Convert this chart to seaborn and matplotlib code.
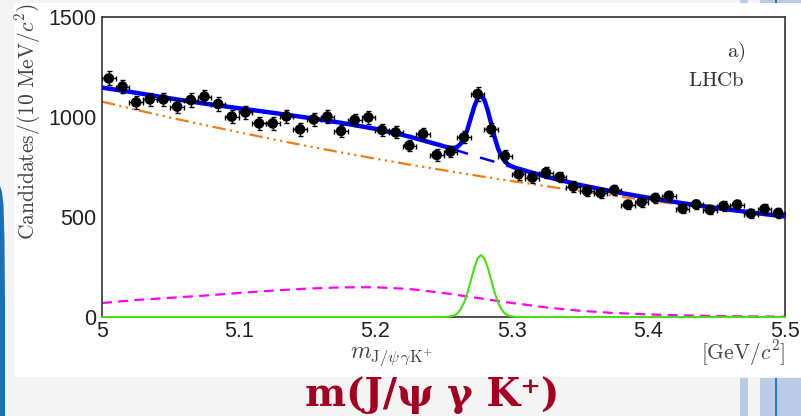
import numpy as np
import matplotlib
matplotlib.use("Agg")
import matplotlib.pyplot as plt
import seaborn as sns
from matplotlib.patches import Rectangle, Polygon

# ---------------- data ----------------
bin_centers = [5.005, 5.015, 5.025, 5.035, 5.045, 5.055, 5.065, 5.075, 5.085, 5.095,
               5.105, 5.115, 5.125, 5.135, 5.145, 5.155, 5.165, 5.175, 5.185, 5.195,
               5.205, 5.215, 5.225, 5.235, 5.245, 5.255, 5.265, 5.275, 5.285, 5.295,
               5.305, 5.315, 5.325, 5.335, 5.345, 5.355, 5.365, 5.375, 5.385, 5.395,
               5.405, 5.415, 5.425, 5.435, 5.445, 5.455, 5.465, 5.475, 5.485, 5.495]
counts = [1193, 1152, 1073, 1088, 1088, 1052, 1085, 1102, 1065, 1002,
          1023, 968, 968, 1003, 938, 988, 1002, 930, 985, 998,
          935, 923, 857, 915, 810, 827, 898, 1115, 938, 805,
          714, 697, 722, 700, 652, 630, 620, 635, 562, 575,
          595, 606, 542, 563, 536, 555, 562, 517, 540, 520]
count_errors = [35, 34, 33, 33, 33, 32, 33, 33, 33, 32,
                32, 31, 31, 32, 31, 31, 32, 30, 31, 32,
                31, 30, 29, 30, 28, 29, 30, 33, 31, 28,
                27, 26, 27, 26, 26, 25, 25, 25, 24, 24,
                24, 25, 23, 24, 23, 24, 24, 23, 23, 23]

fit_x = [5.000, 5.025, 5.050, 5.075, 5.100, 5.125, 5.150, 5.175, 5.200, 5.225,
         5.250, 5.2525, 5.255, 5.2575, 5.260, 5.2625, 5.265, 5.2675, 5.270, 5.2725,
         5.275, 5.2775, 5.280, 5.2825, 5.285, 5.2875, 5.290, 5.2925, 5.295, 5.2975,
         5.300, 5.3025, 5.305, 5.325, 5.350, 5.375, 5.400, 5.425, 5.450, 5.475, 5.500]
combinatorial = [1077, 1036, 997, 960, 924, 889, 855, 823, 792, 762,
                 734, 731, 728, 725, 723, 720, 717, 714, 712, 709,
                 706, 703, 701, 698, 696, 693, 690, 688, 685, 682,
                 680, 677, 675, 654, 629, 606, 583, 561, 540, 520, 500]
part_reco = [70, 85, 96, 107, 120, 132, 142, 148, 149, 140,
             120, 117.5, 115, 112.5, 110, 107.5, 105, 102.5, 100, 97.5,
             95, 92.5, 90, 87.5, 85, 82.5, 80, 77.5, 75, 72.5,
             70, 68, 66, 48, 31, 20, 13, 8, 5, 3, 2]
signal = [0, 0, 0, 0, 0, 0, 0, 0, 0, 0,
          0.3, 1, 3, 7, 17, 38, 71, 121, 183, 245,
          293, 310, 293, 245, 183, 121, 71, 38, 17, 7,
          3, 1, 0.3, 0, 0, 0, 0, 0, 0, 0, 0]

x_ticks = [5.0, 5.1, 5.2, 5.3, 5.4, 5.5]
x_tick_labels = ["5", "5.1", "5.2", "5.3", "5.4", "5.5"]
y_ticks = [0, 500, 1000, 1500]
y_tick_labels = ["0", "500", "1000", "1500"]

background = [c + p for c, p in zip(combinatorial, part_reco)]
total = [b + s for b, s in zip(background, signal)]

# ---------------- style ----------------
sns.set_theme(style="white")
plt.rcParams["font.family"] = ["Liberation Sans", "DejaVu Sans"]
plt.rcParams["mathtext.fontset"] = "cm"

W, H = 801, 416
fig = plt.figure(figsize=(W / 100, H / 100), dpi=100)
fig.patch.set_facecolor("#f4f4f4")

def fx(px):
    return px / W

def fy(py):
    return (H - py) / H

# slide decorations
fig.add_artist(Rectangle((fx(14), fy(377)), fx(801 - 14), (377 - 3) / H,
                         transform=fig.transFigure, facecolor="white",
                         edgecolor="none", zorder=-10))
arc = [(0, 416), (0, 186), (2, 192), (3.5, 205), (4.5, 240), (5, 300), (5, 416)]
fig.add_artist(Polygon([(fx(a), fy(b)) for a, b in arc], closed=True,
                       transform=fig.transFigure, facecolor="#1b6fb5",
                       edgecolor="none", zorder=-9))
for (x0, x1, col) in [(740, 748, "#bccbe5"), (760, 801, "#bccbe5"), (775, 777, "#1f7ac8")]:
    fig.add_artist(Rectangle((fx(x0), fy(416)), fx(x1 - x0), 38 / H,
                             transform=fig.transFigure, facecolor=col,
                             edgecolor="none", zorder=-8))
    fig.add_artist(Rectangle((fx(x0), fy(3)), fx(x1 - x0), 3 / H,
                             transform=fig.transFigure, facecolor=col,
                             edgecolor="none", zorder=-8))

ax = fig.add_axes([fx(102), fy(317), fx(785 - 102), (317 - 17) / H])
ax.set_facecolor("white")

# ---------------- curves ----------------
sns.lineplot(x=fit_x, y=part_reco, ax=ax, color="#ff00ff", lw=1.6, zorder=2)
ax.lines[-1].set_dashes([4.5, 2.8])
sns.lineplot(x=fit_x, y=combinatorial, ax=ax, color="#f57a10", lw=1.6, zorder=2)
ax.lines[-1].set_dashes([6, 2, 1, 2, 1, 2, 1, 2])
sns.lineplot(x=fit_x, y=signal, ax=ax, color="#44e010", lw=1.5, zorder=3,
             clip_on=False)
sns.lineplot(x=fit_x, y=background, ax=ax, color="#0000ff", lw=1.8, zorder=3)
ax.lines[-1].set_dashes([6, 5])
sns.lineplot(x=fit_x, y=total, ax=ax, color="#0000ff", lw=3.2, zorder=4)

# ---------------- data points ----------------
ax.errorbar(bin_centers, counts, yerr=count_errors, xerr=0.005, fmt="none",
            ecolor="black", elinewidth=1.0, capsize=1.8, capthick=1.0, zorder=5)
sns.scatterplot(x=bin_centers, y=counts, ax=ax, color="black", s=58,
                edgecolor="none", zorder=6, legend=False)

# ---------------- axes ----------------
ax.set_xlim(5.0, 5.5)
ax.set_ylim(0, 1500)
ax.set_xticks(x_ticks)
ax.set_xticklabels(x_tick_labels)
ax.set_xticks(np.arange(5.0, 5.5001, 0.02), minor=True)
ax.set_yticks(y_ticks)
ax.set_yticklabels(y_tick_labels)
ax.set_yticks(np.arange(0, 1501, 100), minor=True)
ax.tick_params(axis="both", which="both", direction="in", colors="#222222",
               labelcolor="#222222", labelsize=15.5, width=1.1)
ax.tick_params(axis="y", which="major", length=14, pad=4)
ax.tick_params(axis="y", which="minor", length=7)
ax.tick_params(axis="x", which="major", length=7, pad=3)
ax.tick_params(axis="x", which="minor", length=3.5)
for s in ax.spines.values():
    s.set_color("#333333")
    s.set_linewidth(1.2)
ax.set_xlabel("")
ax.set_ylabel("")

# labels
fig.text(fx(28), fy(4), r"$\mathrm{Candidates}/(10\ \mathrm{MeV}/c^{2})$",
         rotation=90, ha="center", va="top", fontsize=15.5, color="#444444")
fig.text(fx(392), fy(357), r"$m_{\mathrm{J}/\psi\,\gamma\mathrm{K}^{+}}$",
         ha="center", va="center", fontsize=17, color="#444444")
fig.text(fx(785), fy(353), r"$[\mathrm{GeV}/c^{2}]$",
         ha="right", va="center", fontsize=15.5, color="#444444")
fig.text(fx(745), fy(52), r"$\mathrm{a)}$", ha="right", va="center",
         fontsize=15, color="#333333")
fig.text(fx(745), fy(81), r"$\mathrm{LHCb}$", ha="right", va="center",
         fontsize=15, color="#333333")

# slide title
fig.text(fx(432), fy(395), "m(J/ψ γ K⁺)", ha="center", va="center",
         fontsize=28, fontweight="bold", color="#a50021",
         family=["DejaVu Serif", "DejaVu Sans"])

fig.savefig("out.png", dpi=100, facecolor=fig.get_facecolor())
